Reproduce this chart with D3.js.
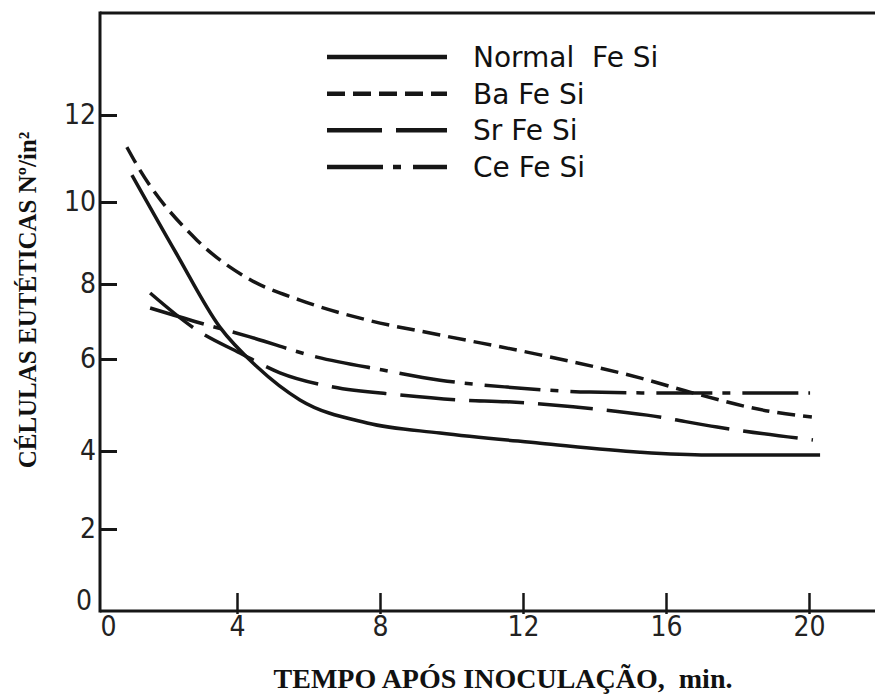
<!DOCTYPE html>
<html>
<head>
<meta charset="utf-8">
<script src="https://cdn.jsdelivr.net/npm/d3@7/dist/d3.min.js"></script>
<style>
  body { margin: 0; background: #fff; }
  .tick text { font-family: "Liberation Sans Narrow", "DejaVu Sans Condensed", "DejaVu Sans", sans-serif; font-stretch: condensed; }
  .legend text { font-family: "DejaVu Sans", sans-serif; white-space: pre; }
  .title { font-family: "Liberation Serif", "DejaVu Serif", serif; font-weight: bold; white-space: pre; }
</style>
</head>
<body>
<script>
  // values
  const xTicks = [0, 4, 8, 12, 16, 20];
  const yTicks = [0, 2, 4, 6, 8, 10, 12];

  const normalTime = [1.06, 2.3, 3.52, 4.56, 5.76, 7.64, 9.68, 12.48, 15.27, 17.15, 20.31];
  const normalCells = [10.62, 8.75, 6.85, 5.83, 5.11, 4.61, 4.39, 4.17, 3.97, 3.9, 3.9];

  const baTime = [0.92, 1.2, 2.88, 4.36, 5.76, 7.64, 9.68, 12.48, 15.27, 16.67, 18.99, 20.08];
  const baCells = [11.26, 10.85, 9.07, 8.11, 7.57, 7.04, 6.64, 6.11, 5.59, 5.28, 4.85, 4.74];

  const srTime = [1.57, 2.88, 4.08, 5.2, 6.69, 8.56, 10.24, 11.55, 13.4, 15.47, 17.43, 20.11];
  const srCells = [7.76, 6.77, 6.16, 5.7, 5.39, 5.22, 5.11, 5.07, 4.96, 4.78, 4.52, 4.24];

  const ceTime = [1.57, 2.97, 4.36, 6.24, 8.08, 9.68, 11.55, 13.87, 16.2, 18.07, 20.03];
  const ceCells = [7.36, 6.96, 6.59, 6.05, 5.76, 5.54, 5.39, 5.28, 5.26, 5.26, 5.26];

  const seriesNames = ["Normal  Fe Si", "Ba Fe Si", "Sr Fe Si", "Ce Fe Si"];

  const w = 875, h = 698;
  const padLeft = 100, padTop = 13, axisY = 611;

  const series = [
    { name: seriesNames[0], t: normalTime, c: normalCells, dash: null },
    { name: seriesNames[1], t: baTime, c: baCells, dash: "18,8" },
    { name: seriesNames[2], t: srTime, c: srCells, dash: "55,14" },
    { name: seriesNames[3], t: ceTime, c: ceCells, dash: "56,10,8,12" }
  ];

  const ink = "#161616";

  const xScale = d3.scaleLinear().domain([0, 20]).range([94, 809]);
  // the printed y ticks are not evenly spaced, so follow them piecewise
  const yScale = d3.scaleLinear()
    .domain(yTicks)
    .range([611, 529, 451, 359, 284, 202, 115]);

  const svg = d3.select("body").append("svg")
    .attr("width", w)
    .attr("height", h);

  // frame: top rule
  svg.append("line")
    .attr("x1", padLeft).attr("x2", w)
    .attr("y1", padTop).attr("y2", padTop)
    .attr("stroke", ink).attr("stroke-width", 3);

  const xAxis = d3.axisBottom(xScale).tickValues(xTicks).tickSize(-18).tickPadding(5);
  const gx = svg.append("g")
    .attr("transform", "translate(0," + axisY + ")")
    .call(xAxis);
  gx.select(".domain").remove();
  gx.append("line")
    .attr("x1", padLeft).attr("x2", w)
    .attr("stroke", ink).attr("stroke-width", 3);
  gx.selectAll(".tick line").attr("stroke", ink).attr("stroke-width", 2.5).attr("y2", -18).attr("y1", 3);
  gx.selectAll(".tick text").attr("fill", "#222").attr("font-size", 28);
  gx.selectAll(".tick").filter(d => d === 0).select("line").remove();
  gx.selectAll(".tick").filter(d => d === 0).select("text").attr("dx", 14);

  const yAxis = d3.axisLeft(yScale).tickValues(yTicks).tickSize(-17).tickPadding(4);
  const gy = svg.append("g")
    .attr("transform", "translate(" + padLeft + ",0)")
    .call(yAxis);
  gy.select(".domain").remove();
  gy.append("line")
    .attr("y1", padTop - 1.5).attr("y2", axisY + 1.5)
    .attr("stroke", ink).attr("stroke-width", 3);
  gy.selectAll(".tick line").attr("stroke", ink).attr("stroke-width", 3);
  gy.selectAll(".tick text").attr("fill", "#222").attr("font-size", 28);
  gy.selectAll(".tick").filter(d => d === 0).select("line").remove();
  gy.selectAll(".tick").filter(d => d === 0).select("text").attr("dy", "-0.05em").attr("dx", -4);

  const line = d3.line()
    .x(d => xScale(d[0]))
    .y(d => yScale(d[1]))
    .curve(d3.curveMonotoneX);

  svg.selectAll("path.curve")
    .data(series)
    .enter()
    .append("path")
    .attr("class", "curve")
    .attr("d", s => line(s.t.map((t, i) => [t, s.c[i]])))
    .attr("fill", "none")
    .attr("stroke", ink)
    .attr("stroke-width", 3.5)
    .attr("stroke-dasharray", s => s.dash);

  // legend
  const legend = svg.append("g").attr("class", "legend");
  const rowY = d3.scalePoint().domain(seriesNames).range([57, 167]);
  const rows = legend.selectAll("g")
    .data(series)
    .enter()
    .append("g")
    .attr("transform", s => "translate(0," + rowY(s.name) + ")");
  rows.append("line")
    .attr("x1", 327).attr("x2", 447)
    .attr("stroke", ink)
    .attr("stroke-width", 4.5)
    .attr("stroke-dasharray", s => s.dash);
  rows.append("text")
    .attr("x", 473)
    .attr("y", 10)
    .attr("font-size", 28)
    .attr("fill", "#111")
    .text(s => s.name);

  // axis titles
  svg.append("text")
    .attr("class", "title")
    .attr("x", 503)
    .attr("y", 688)
    .attr("text-anchor", "middle")
    .attr("font-size", 28)
    .attr("fill", "#111")
    .text("TEMPO APÓS INOCULAÇÃO,  min.");

  svg.append("text")
    .attr("class", "title")
    .attr("transform", "translate(36,300) rotate(-90)")
    .attr("text-anchor", "middle")
    .attr("font-size", 25)
    .attr("fill", "#111")
    .text("CÉLULAS EUTÉTICAS Nº/in²");
</script>
</body>
</html>
